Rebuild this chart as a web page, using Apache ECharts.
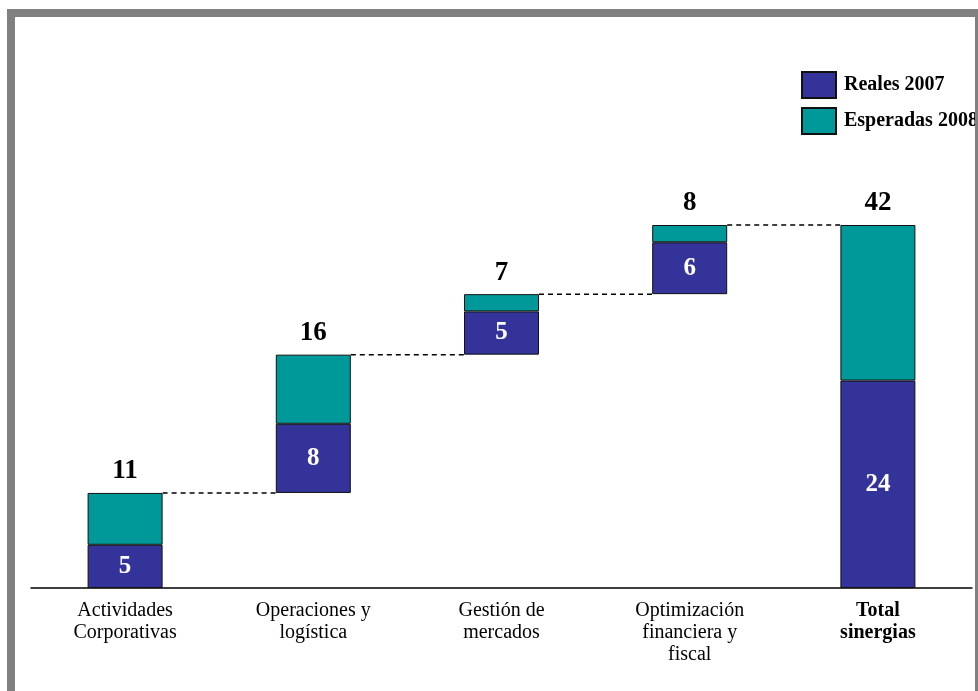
<!DOCTYPE html>
<html>
<head>
<meta charset="utf-8">
<script src="https://cdn.jsdelivr.net/npm/echarts@6/dist/echarts.min.js"></script>
<style>
  html, body { margin: 0; padding: 0; background: #fff; }
  #chart { width: 978px; height: 691px; }
</style>
</head>
<body>
<div id="chart"></div>
<script>
var categories = ['Actividades\nCorporativas', 'Operaciones y\nlogística', 'Gestión de\nmercados', 'Optimización\nfinanciera y\nfiscal', 'Total\nsinergias']
var reales = [5, 8, 5, 6, 24]
var esperadas = [6, 8, 2, 2, 18]
var totales = [11, 16, 7, 8, 42]
// offset of each floating bar (last one is the total, starts at 0)
var bases = [0, 11, 27, 34, 0]

var serif = '"Liberation Serif", "Times New Roman", serif'
var barW = 75

// connector levels between consecutive bars: [from index, level]
var connectors = []
for (var i = 0; i < categories.length - 1; i++) {
  connectors.push([i, bases[i] + totales[i]])
}

var chart = echarts.init(document.getElementById('chart'))
chart.setOption({
  backgroundColor: '#fff',
  animation: false,
  grid: { left: 31, right: 6, top: 225, bottom: 103 },
  legend: {
    orient: 'vertical',
    left: 796,
    top: 66,
    icon: 'rect',
    itemWidth: 34,
    itemHeight: 26,
    itemGap: 8,
    data: ['Reales 2007', 'Esperadas 2008'],
    textStyle: { fontFamily: serif, fontWeight: 'bold', fontSize: 20, color: '#000', padding: [0, 0, 0, 3] }
  },
  xAxis: {
    type: 'category',
    data: categories,
    axisTick: { show: false },
    axisLine: { lineStyle: { color: '#000', width: 1.5 } },
    axisLabel: {
      interval: 0,
      margin: 12,
      fontFamily: serif,
      fontSize: 20,
      lineHeight: 22,
      color: '#000',
      formatter: function (v, idx) {
        return idx === 4 ? '{b|' + v.split('\n').join('}\n{b|') + '}' : v
      },
      rich: { b: { fontFamily: serif, fontSize: 20, fontWeight: 'bold', lineHeight: 22, color: '#000' } }
    }
  },
  yAxis: { type: 'value', min: 0, max: 42, show: false, splitLine: { show: false } },
  series: [
    {
      // dashed connectors from the right edge of one bar to the left edge of the next
      type: 'custom',
      z: 1,
      silent: true,
      data: connectors,
      renderItem: function (params, api) {
        var a = api.coord([api.value(0), api.value(1)])
        var b = api.coord([api.value(0) + 1, api.value(1)])
        return {
          type: 'line',
          shape: { x1: a[0] + barW / 2, y1: a[1], x2: b[0] - barW / 2, y2: b[1] },
          style: { stroke: '#000', lineWidth: 1.5, lineDash: [5, 4] }
        }
      }
    },
    {
      name: 'base',
      type: 'bar',
      stack: 'w',
      barWidth: barW,
      data: bases,
      itemStyle: { color: 'transparent' },
      emphasis: { disabled: true }
    },
    {
      name: 'Reales 2007',
      type: 'bar',
      stack: 'w',
      z: 3,
      data: reales,
      itemStyle: { color: '#333399', borderColor: '#111', borderWidth: 1 },
      label: {
        show: true,
        position: 'inside',
        color: '#fff',
        fontFamily: serif,
        fontWeight: 'bold',
        fontSize: 25
      }
    },
    {
      name: 'Esperadas 2008',
      type: 'bar',
      stack: 'w',
      z: 3,
      data: esperadas,
      itemStyle: { color: '#009999', borderColor: '#111', borderWidth: 1 },
      label: {
        show: true,
        position: 'top',
        distance: 8,
        color: '#000',
        fontFamily: serif,
        fontWeight: 'bold',
        fontSize: 27,
        formatter: function (p) { return totales[p.dataIndex] }
      }
    }
  ],
  graphic: [
    // slide frame
    { type: 'rect', z: 100, silent: true,
      shape: { x: 11, y: 13, width: 968, height: 700 },
      style: { fill: 'none', stroke: '#808080', lineWidth: 8 } }
  ]
})
</script>
</body>
</html>
